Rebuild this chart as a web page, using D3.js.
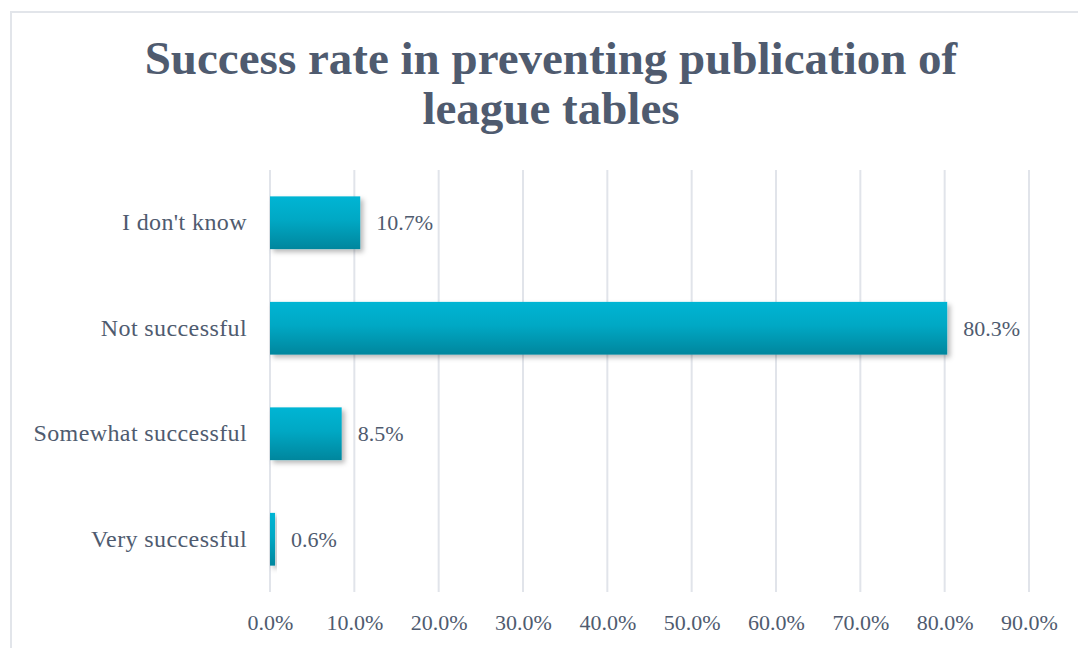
<!DOCTYPE html>
<html>
<head>
<meta charset="utf-8">
<script src="https://cdn.jsdelivr.net/npm/d3@7"></script>
<style>
  html, body { margin: 0; padding: 0; background: #ffffff; }
  svg { display: block; }
  text { font-family: "Liberation Serif", "DejaVu Serif", serif; font-variant-numeric: oldstyle-nums; }
</style>
</head>
<body>
<svg id="chart" width="1078" height="648"></svg>
<script>
// Survey responses, drawn top to bottom
const categories = ["I don't know", "Not successful", "Somewhat successful", "Very successful"];
const values = [10.7, 80.3, 8.5, 0.6];
const tickValues = [0, 10, 20, 30, 40, 50, 60, 70, 80, 90];
const titleLines = ["Success rate in preventing publication of", "league tables"];

const svg = d3.select("#chart");
const textColor = "#4f5b6f";
const gridColor = "#e1e4ea";

// Chart area frame
svg.append("rect")
  .attr("x", 11).attr("y", 12)
  .attr("width", 1100).attr("height", 700)
  .attr("fill", "#ffffff")
  .attr("stroke", "#e2e5ea").attr("stroke-width", 2);

const defs = svg.append("defs");
const grad = defs.append("linearGradient")
  .attr("id", "barGrad").attr("x1", 0).attr("y1", 0).attr("x2", 0).attr("y2", 1);
grad.append("stop").attr("offset", "0%").attr("stop-color", "#00b5d4");
grad.append("stop").attr("offset", "45%").attr("stop-color", "#00a8c4");
grad.append("stop").attr("offset", "100%").attr("stop-color", "#00869d");

const shadow = defs.append("filter").attr("id", "barShadow")
  .attr("x", "-20%").attr("y", "-20%").attr("width", "150%").attr("height", "160%");
shadow.append("feDropShadow")
  .attr("dx", 3).attr("dy", 3).attr("stdDeviation", 2.5)
  .attr("flood-color", "#000000").attr("flood-opacity", 0.28);

// Title
svg.append("text")
  .attr("x", 551).attr("y", 74)
  .attr("text-anchor", "middle")
  .attr("fill", textColor)
  .style("font-size", "47px").style("font-weight", "bold")
  .selectAll("tspan").data(titleLines).join("tspan")
  .attr("x", 551)
  .attr("dy", (d, i) => i === 0 ? 0 : 50)
  .text(d => d);

const margin = { left: 270, top: 170 };
const plotW = 759, plotH = 422;

const x = d3.scaleLinear().domain([0, 90]).range([0, plotW]);
const y = d3.scaleBand().domain(categories).range([0, plotH]).paddingInner(0.5).paddingOuter(0.25);

const g = svg.append("g").attr("transform", `translate(${margin.left},${margin.top})`);

// Vertical gridlines
g.append("g").selectAll("line").data(tickValues).join("line")
  .attr("x1", d => x(d)).attr("x2", d => x(d))
  .attr("y1", 0).attr("y2", plotH)
  .attr("stroke", gridColor).attr("stroke-width", 2);

// Bars
g.append("g").selectAll("rect").data(values).join("rect")
  .attr("x", x(0))
  .attr("y", (d, i) => y(categories[i]))
  .attr("width", d => x(d) - x(0))
  .attr("height", y.bandwidth())
  .attr("fill", "url(#barGrad)")
  .attr("filter", "url(#barShadow)");

// Value labels
g.append("g").selectAll("text").data(values).join("text")
  .attr("x", d => x(d) + 16)
  .attr("y", (d, i) => y(categories[i]) + y.bandwidth() / 2)
  .attr("dy", "0.35em")
  .attr("fill", textColor)
  .style("font-size", "22px")
  .text(d => d3.format(".1f")(d) + "%");

// Category axis labels
const yAxis = d3.axisLeft(y).tickSize(0).tickPadding(23);
g.append("g").call(yAxis)
  .call(a => a.select(".domain").remove())
  .selectAll("text")
  .attr("fill", textColor)
  .style("font-size", "24px")
  .style("letter-spacing", "0.4px")
  .style("font-family", "\"Liberation Serif\", serif");

// Percentage axis labels
const xAxis = d3.axisBottom(x).tickValues(tickValues).tickSize(0).tickPadding(22)
  .tickFormat(d => d3.format(".1f")(d) + "%");
g.append("g").attr("transform", `translate(0,${plotH})`).call(xAxis)
  .call(a => a.select(".domain").remove())
  .selectAll("text")
  .attr("fill", textColor)
  .style("font-size", "22px")
  .style("font-family", "\"Liberation Serif\", serif");
</script>
</body>
</html>
